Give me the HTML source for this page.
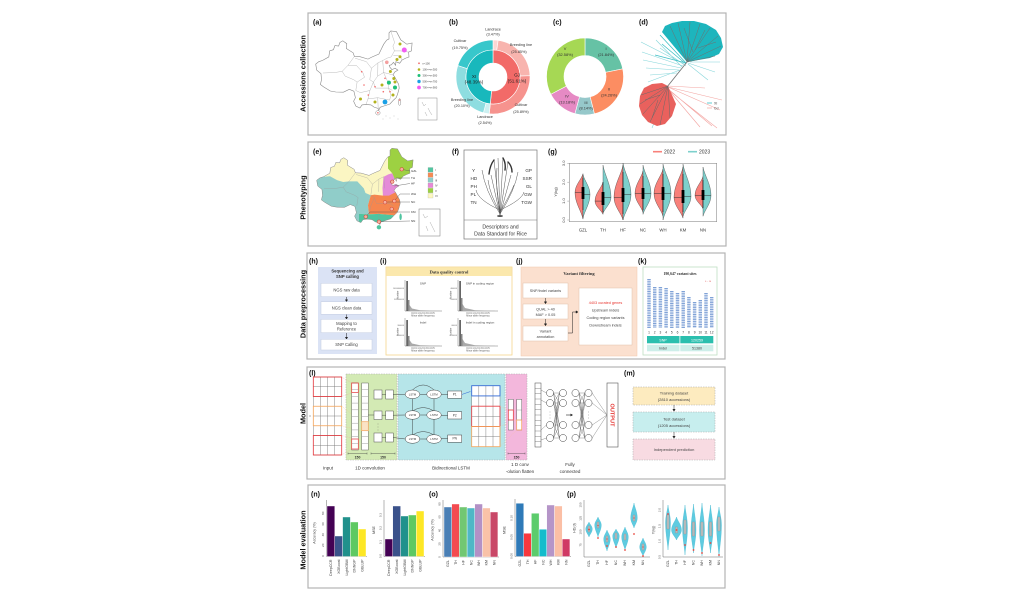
<!DOCTYPE html>
<html><head><meta charset="utf-8">
<style>
html,body{margin:0;padding:0;background:#fff;}
svg{display:block;}
text{font-family:"Liberation Sans",Arial,sans-serif;}
.sf{font-family:"Liberation Serif",serif;font-weight:bold;}
</style></head><body>
<svg width="1031" height="596" viewBox="0 0 1031 596" xmlns="http://www.w3.org/2000/svg">
<defs>
<clipPath id="cnclip"><path d="M315.7,64.1 L316.7,70.1 L321,73.7 L321.5,79.7 L320.4,84.5 L323.6,86.9 L330.3,91 L335.8,92 L343.4,92.2 L349.3,89.3 L353.9,91.2 L355.4,97.7 L353.6,101.3 L355.9,106.1 L359.9,108 L362,104.9 L366,104.4 L371,104.9 L374.1,107.1 L378.2,108.5 L378.8,110.2 L380.1,107.3 L385.1,105.6 L389.9,104 L393.5,100.1 L396.1,97.7 L397.6,94.1 L399.2,88.1 L398.7,84.5 L396.8,80.9 L394.5,76.6 L393,74.9 L394.8,72 L397.9,70.1 L395.1,68.2 L391.9,69.6 L389.9,67.2 L389.2,65.3 L391.3,64.8 L393.5,62.4 L395.6,65.3 L395.9,61.7 L399.7,63.2 L402.1,60 L405.8,58.1 L409,56.9 L408.6,52.1 L411.4,50.9 L412.1,43 L406.8,44.2 L400.8,39.9 L396.5,31.7 L390.8,31 L389,32.9 L389,38.9 L386.7,40.1 L383.7,44.2 L378.9,54 L371.2,57.4 L368,59.1 L360,56.7 L354.4,56.4 L353.1,52.8 L346.3,48.5 L346.8,43.7 L342.8,40.8 L339.9,42.5 L338.6,46.1 L334.9,45.6 L333.4,49.7 L329.7,50.9 L328.8,56.9 L322.4,60.5 L318.8,61.7 Z"/></clipPath>
</defs>

<!-- panel boxes -->
<g fill="none" stroke="#b3b3b3" stroke-width="1.2">
<rect x="308" y="13" width="418" height="122"/>
<rect x="308" y="142" width="418" height="104"/>
<rect x="307" y="253" width="418" height="106"/>
<rect x="307" y="367" width="418" height="112"/>
<rect x="308" y="485" width="417" height="103"/>
</g>

<!-- row labels -->
<g font-size="7.3" font-weight="bold" fill="#111" text-anchor="middle">
<text transform="translate(305.5,73.5) rotate(-90)">Accessions collection</text>
<text transform="translate(305.5,197.5) rotate(-90)">Phenotyping</text>
<text transform="translate(305.5,304) rotate(-90)">Data preprocessing</text>
<text transform="translate(305.5,413.5) rotate(-90)">Model</text>
<text transform="translate(305.5,540) rotate(-90)">Model evaluation</text>
</g>

<!-- panel letters -->
<g font-size="7" font-weight="bold" fill="#111">
<text x="313" y="24.5">(a)</text><text x="449" y="24.5">(b)</text><text x="553" y="24.5">(c)</text><text x="639" y="24.5">(d)</text>
<text x="313" y="154">(e)</text><text x="452" y="154">(f)</text><text x="548" y="154">(g)</text>
<text x="309" y="263.5">(h)</text><text x="380" y="263.5">(i)</text><text x="516" y="263.5">(j)</text><text x="638" y="263.5">(k)</text>
<text x="309" y="375.5">(l)</text><text x="624" y="375.5">(m)</text>
<text x="311" y="496.5">(n)</text><text x="429" y="496.5">(o)</text><text x="567" y="496.5">(p)</text>
</g>

<!-- ===== (a) map ===== -->
<path d="M315.7,64.1 L316.7,70.1 L321,73.7 L321.5,79.7 L320.4,84.5 L323.6,86.9 L330.3,91 L335.8,92 L343.4,92.2 L349.3,89.3 L353.9,91.2 L355.4,97.7 L353.6,101.3 L355.9,106.1 L359.9,108 L362,104.9 L366,104.4 L371,104.9 L374.1,107.1 L378.2,108.5 L378.8,110.2 L380.1,107.3 L385.1,105.6 L389.9,104 L393.5,100.1 L396.1,97.7 L397.6,94.1 L399.2,88.1 L398.7,84.5 L396.8,80.9 L394.5,76.6 L393,74.9 L394.8,72 L397.9,70.1 L395.1,68.2 L391.9,69.6 L389.9,67.2 L389.2,65.3 L391.3,64.8 L393.5,62.4 L395.6,65.3 L395.9,61.7 L399.7,63.2 L402.1,60 L405.8,58.1 L409,56.9 L408.6,52.1 L411.4,50.9 L412.1,43 L406.8,44.2 L400.8,39.9 L396.5,31.7 L390.8,31 L389,32.9 L389,38.9 L386.7,40.1 L383.7,44.2 L378.9,54 L371.2,57.4 L368,59.1 L360,56.7 L354.4,56.4 L353.1,52.8 L346.3,48.5 L346.8,43.7 L342.8,40.8 L339.9,42.5 L338.6,46.1 L334.9,45.6 L333.4,49.7 L329.7,50.9 L328.8,56.9 L322.4,60.5 L318.8,61.7 Z" fill="#fff" stroke="#8a8a8a" stroke-width="0.6"/>
<g fill="none" stroke="#aaa" stroke-width="0.4">
<path d="M322.9,73 L335.1,72.5 L342.2,71.3 L348,65.3 L354.4,56.4"/>
<path d="M342.2,71.3 L345.1,76.1 L353.7,79.7 L357.1,82.1 L355.8,90.5"/>
<path d="M348,65.3 L356.3,65.3 L362.8,72.5 L364.5,77.3 L357.1,82.1"/>
<path d="M355.1,58.2 L366.4,61.7 L371.4,68.2 L377.9,62.9 L382.7,60.5 L387.3,58.1 L391.2,56.9 L394.4,50.9 L392.9,46.1 L394.6,42.5 L390.8,31"/>
<path d="M394.4,50.9 L400.6,50.9 L408.6,52.1"/><path d="M393.4,55.7 L399.8,55.7 L402.1,60"/>
<path d="M371.4,68.2 L369.8,79.7 L373.4,82.1 L369.9,90.5 L368,98.9 L366,104.4"/>
<path d="M355.8,90.5 L360.4,92.6 L369.9,90.5"/>
<path d="M382.7,60.5 L383.6,72.5"/><path d="M377.9,62.9 L377.7,76.1"/>
<path d="M373.4,82.1 L377.7,76.1 L383.6,72.5 L393,74.9"/>
<path d="M373.4,82.1 L375.4,88.1 L388.5,88.1 L392.4,90.5"/>
<path d="M368,98.9 L377.7,97.7 L389.6,100.1"/><path d="M377.7,97.7 L378.2,108.5"/>
<path d="M388.5,88.1 L391,95.3 L389.6,100.1"/><path d="M383.6,72.5 L387.9,82.1 L388.5,88.1"/>
</g>
<ellipse cx="377.9" cy="112.8" rx="2.2" ry="2.2" fill="#fff" stroke="#8a8a8a" stroke-width="0.5"/>
<ellipse cx="399.6" cy="102" rx="1.2" ry="3.4" fill="#fff" stroke="#8a8a8a" stroke-width="0.5"/>
<g fill="#999"><circle cx="386" cy="116" r="0.4"/><circle cx="390" cy="118" r="0.4"/><circle cx="394" cy="116" r="0.4"/><circle cx="398" cy="119" r="0.4"/><circle cx="383" cy="119" r="0.4"/></g>
<g>
<circle cx="400" cy="44" r="1.5" fill="#b2b21c"/><circle cx="404.3" cy="50" r="2.5" fill="#f25cf2"/>
<circle cx="400" cy="56.7" r="1.5" fill="#b2b21c"/><circle cx="397" cy="59.5" r="1.5" fill="#b2b21c"/>
<circle cx="386.8" cy="62.3" r="1.8" fill="#f4a0a0"/><circle cx="390.4" cy="71.5" r="1.5" fill="#b2b21c"/>
<circle cx="393.8" cy="78.5" r="1.5" fill="#b2b21c"/><circle cx="388.9" cy="82.6" r="2" fill="#1fbf78"/>
<circle cx="395" cy="82" r="1.5" fill="#b2b21c"/><circle cx="395" cy="87.5" r="2" fill="#1fbf78"/>
<circle cx="382" cy="85" r="1.5" fill="#b2b21c"/><circle cx="393" cy="95" r="1.5" fill="#b2b21c"/>
<circle cx="385" cy="102" r="2.4" fill="#1aa0e6"/><circle cx="375" cy="102" r="1.5" fill="#b2b21c"/>
<circle cx="360.5" cy="99" r="1.5" fill="#b2b21c"/>
<g fill="#f26b6b"><circle cx="361.7" cy="71.7" r="0.8"/><circle cx="364" cy="85" r="0.8"/><circle cx="375" cy="86.7" r="0.8"/><circle cx="383.3" cy="91.7" r="0.8"/><circle cx="390" cy="91.7" r="0.8"/><circle cx="399.6" cy="100" r="0.8"/><circle cx="385" cy="78.3" r="0.8"/><circle cx="377.9" cy="112.8" r="0.8"/><circle cx="368.3" cy="95" r="0.8"/></g>
</g>
<g font-size="2.6" fill="#444">
<circle cx="419" cy="63.3" r="0.9" fill="#f26b6b"/><text x="422.5" y="64.3">n&lt;100</text>
<circle cx="419" cy="69.5" r="1.3" fill="#b2b21c"/><text x="422.5" y="70.5">100&lt;=n&lt;300</text>
<circle cx="419" cy="75.5" r="1.5" fill="#1fbf78"/><text x="422.5" y="76.5">300&lt;=n&lt;500</text>
<circle cx="419" cy="81.5" r="1.7" fill="#1aa0e6"/><text x="422.5" y="82.5">500&lt;=n&lt;700</text>
<circle cx="419" cy="87.5" r="1.9" fill="#f25cf2"/><text x="422.5" y="88.5">700&lt;=n&lt;900</text>
</g>
<rect x="418" y="98" width="19" height="22" fill="none" stroke="#888" stroke-width="0.5"/>
<path d="M422,102 L424,106 L426,104 M428,108 L430,112 L432,115 M425,112 L427,116" stroke="#999" stroke-width="0.4" fill="none"/>

<!-- ===== (b) donut ===== -->
<g stroke="#fff" stroke-width="0.6">
<path d="M493,40 A37,37 0 0 1 498.15,40.36 L496.76,50.26 A27,27 0 0 0 493,50 Z" fill="#fcd6d3"/>
<path d="M498.15,40.36 A37,37 0 0 1 529.98,75.71 L519.98,76.06 A27,27 0 0 0 496.76,50.26 Z" fill="#f8b4ae"/>
<path d="M529.98,75.71 A37,37 0 0 1 489.26,113.81 L490.27,103.86 A27,27 0 0 0 519.98,76.06 Z" fill="#f6938e"/>
<path d="M489.26,113.81 A37,37 0 0 1 483.42,112.74 L486.01,103.08 A27,27 0 0 0 490.27,103.86 Z" fill="#cdf0f1"/>
<path d="M483.42,112.74 A37,37 0 0 1 457.81,65.57 L467.32,68.66 A27,27 0 0 0 486.01,103.08 Z" fill="#8edde0"/>
<path d="M457.81,65.57 A37,37 0 0 1 493,40 L493,50 A27,27 0 0 0 467.32,68.66 Z" fill="#38c7cb"/>
<path d="M493,50 A27,27 0 1 1 490.27,103.86 L491.58,90.93 A14,14 0 1 0 493,63 Z" fill="#f26a68"/>
<path d="M490.27,103.86 A27,27 0 0 1 493,50 L493,63 A14,14 0 0 0 491.58,90.93 Z" fill="#18b8bc"/>
</g>
<g font-size="3.8" fill="#333" text-anchor="middle">
<text x="493" y="30.5">Landrace</text><text x="493" y="35.5">(3.47%)</text>
<text x="460" y="42">Cultivar</text><text x="460" y="49">(19.75%)</text>
<text x="521" y="46">Breeding line</text><text x="519" y="53">(25.85%)</text>
<text x="462" y="101">Breeding line</text><text x="462" y="107">(20.10%)</text>
<text x="485" y="118">Landrace</text><text x="485" y="124">(2.54%)</text>
<text x="521" y="106">Cultivar</text><text x="521" y="113">(25.89%)</text>
</g>
<g font-size="4.6" fill="#222" text-anchor="middle">
<text x="474" y="78">XI</text><text x="474" y="83.5">(48.39%)</text>
<text x="517" y="76.5">GJ</text><text x="517" y="82.5">(51.61%)</text>
</g>

<!-- ===== (c) donut ===== -->
<g stroke="#fff" stroke-width="0.6">
<path d="M585,38 A38.5,38.5 0 0 1 622.74,68.89 L605.59,72.35 A21,21 0 0 0 585,55.5 Z" fill="#66c2a5"/>
<path d="M622.74,68.89 A38.5,38.5 0 0 1 594.38,113.84 L590.12,96.87 A21,21 0 0 0 605.59,72.35 Z" fill="#fc8d62"/>
<path d="M594.38,113.84 A38.5,38.5 0 0 1 574.91,113.65 L579.49,96.77 A21,21 0 0 0 590.12,96.87 Z" fill="#96c8ca"/>
<path d="M574.91,113.65 A38.5,38.5 0 0 1 550.82,94.22 L566.36,86.16 A21,21 0 0 0 579.49,96.77 Z" fill="#e68ac4"/>
<path d="M550.82,94.22 A38.5,38.5 0 0 1 585,38 L585,55.5 A21,21 0 0 0 566.36,86.16 Z" fill="#a6d854"/>
</g>
<g font-size="3.9" fill="#333" text-anchor="middle">
<text x="606" y="50">I</text><text x="606" y="56">(21.84%)</text>
<text x="609" y="90.5">II</text><text x="609" y="96.5">(24.26%)</text>
<text x="586" y="104">III</text><text x="586" y="109.5">(8.14%)</text>
<text x="567" y="97.5">IV</text><text x="567" y="103.5">(13.18%)</text>
<text x="565" y="50">V</text><text x="565" y="56">(32.58%)</text>
</g>

<!-- ===== (d) tree ===== -->
<g fill="none" stroke-width="0.6">
<path d="M684,64 L641,42 M683,66 L642,52 M681,68 L643,60 M679,70 L646,68 M677,73 L650,75 M682,67 L656,40 M686,66 L660,48 M688,64 L708,80 M688,63 L715,72 M690,62 L720,62 M668,88 L652,128 M680,70 L648,82" stroke="#86d6da"/>
<path d="M686,63 L660,35 M686,63 L655,55 M686,64 L662,44" stroke="#3dbfc5" stroke-width="0.8"/>
</g>
<path d="M687,62 L662,32 L665,26 L672,23 L682,21 L694,21 L706,24 L716,30 L721,38 L723,47 L719,54 L710,58 Z" fill="#1db5bd"/>
<g stroke="#6f6f6f" stroke-width="0.5" fill="none">
<path d="M687,62 L670,26 M687,62 L678,23 M687,62 L690,22 M687,62 L700,24 M687,62 L710,28 M687,62 L718,36 M687,62 L721,46 M687,62 L715,56 M695,50 L705,30 M693,52 L684,28 M698,48 L716,42"/>
</g>
<path d="M687,62 L667,87" stroke="#777" stroke-width="0.9"/>
<g fill="none" stroke="#f3a5a2" stroke-width="0.6">
<path d="M666,88 L717,128 M667,88 L712,126 M668,87 L722,100 M668,87 L720,110 M667,88 L700,127 M668,86 L705,88"/>
</g>
<path d="M668,86 L662,83 L652,84 L644,88 L640,96 L639,106 L642,115 L648,122 L657,126 L665,124 L672,116 L676,104 Z" fill="#e9615d"/>
<g stroke="#6a6a6a" stroke-width="0.5" fill="none">
<path d="M668,86 L641,95 M668,86 L640,104 M668,86 L643,114 M668,86 L650,122 M668,86 L660,125 M668,86 L670,118 M660,95 L645,100 M658,100 L652,118"/>
</g>
<line x1="707" y1="103" x2="712" y2="103" stroke="#1db5bd" stroke-width="0.7"/>
<line x1="707" y1="108" x2="712" y2="108" stroke="#f3a5a2" stroke-width="0.7"/>
<g font-size="3.5" fill="#444"><text x="714" y="104.5">XI</text><text x="714" y="109.5">GJ</text></g>

<!-- ===== (e) colored map ===== -->
<g transform="matrix(1,0,0,0.966,1,118.3)">
<g clip-path="url(#cnclip)">
<rect x="300" y="20" width="130" height="100" fill="#fbf6c3"/>
<path d="M387,28 L415,28 L415,64 L399.7,63.2 L395.9,61.7 L393.5,62.4 L391.2,56.9 L387,52 Z" fill="#9dd142"/>
<path d="M382.7,60.5 L387.3,58.1 L391.2,56.9 L393.5,62.4 L398,70 L394.5,76.6 L388,82 L382,82 L381.5,72 Z" fill="#e58bd8"/>
<path d="M310,60 L322.4,60.5 L329,60 L336,64 L342.2,66 L348,65.3 L356.3,65.3 L362.8,72.5 L364.5,77.3 L369.8,79.7 L367,90 L368,99.5 L358,99 L358,116 L310,116 Z" fill="#90cdc9"/>
<path d="M369.8,79.7 L373.4,79 L382,80 L388,80 L394.5,76.6 L399.5,86 L398,95 L393,100.5 L389.6,100.1 L377.7,99 L368,99.5 L367,90 Z" fill="#f5864f"/>
<path d="M358,99 L368,99.5 L377.7,99 L389.6,100.1 L393,100.5 L402,99 L402,116 L358,116 Z" fill="#4fc4a0"/>
<g fill="none" stroke="#999" stroke-width="0.3">
<path d="M322.9,73 L335.1,72.5 L342.2,71.3 L348,65.3 L354.4,56.4"/>
<path d="M342.2,71.3 L345.1,76.1 L353.7,79.7 L357.1,82.1 L355.8,90.5"/>
<path d="M355.1,58.2 L366.4,61.7 L371.4,68.2 L377.9,62.9 L382.7,60.5"/>
<path d="M371.4,68.2 L369.8,79.7 L373.4,82.1 L369.9,90.5 L368,98.9"/>
<path d="M373.4,82.1 L375.4,88.1 L388.5,88.1 L392.4,90.5"/><path d="M377.7,97.7 L378.2,108.5"/><path d="M382.7,60.5 L383.6,72.5"/><path d="M377.9,62.9 L377.7,76.1"/>
</g>
</g>
<path d="M315.7,64.1 L316.7,70.1 L321,73.7 L321.5,79.7 L320.4,84.5 L323.6,86.9 L330.3,91 L335.8,92 L343.4,92.2 L349.3,89.3 L353.9,91.2 L355.4,97.7 L353.6,101.3 L355.9,106.1 L359.9,108 L362,104.9 L366,104.4 L371,104.9 L374.1,107.1 L378.2,108.5 L378.8,110.2 L380.1,107.3 L385.1,105.6 L389.9,104 L393.5,100.1 L396.1,97.7 L397.6,94.1 L399.2,88.1 L398.7,84.5 L396.8,80.9 L394.5,76.6 L393,74.9 L394.8,72 L397.9,70.1 L395.1,68.2 L391.9,69.6 L389.9,67.2 L389.2,65.3 L391.3,64.8 L393.5,62.4 L395.6,65.3 L395.9,61.7 L399.7,63.2 L402.1,60 L405.8,58.1 L409,56.9 L408.6,52.1 L411.4,50.9 L412.1,43 L406.8,44.2 L400.8,39.9 L396.5,31.7 L390.8,31 L389,32.9 L389,38.9 L386.7,40.1 L383.7,44.2 L378.9,54 L371.2,57.4 L368,59.1 L360,56.7 L354.4,56.4 L353.1,52.8 L346.3,48.5 L346.8,43.7 L342.8,40.8 L339.9,42.5 L338.6,46.1 L334.9,45.6 L333.4,49.7 L329.7,50.9 L328.8,56.9 L322.4,60.5 L318.8,61.7 Z" fill="none" stroke="#888" stroke-width="0.5"/>
<ellipse cx="377.9" cy="112.8" rx="2.2" ry="2.2" fill="#4fc4a0"/>
<ellipse cx="399.6" cy="102" rx="1.2" ry="3.4" fill="#4fc4a0"/>
</g>
<g stroke="#555" stroke-width="0.4" fill="none">
<path d="M401.7,169.3 L410,171 M392.3,181.7 L396,178 L410,178 M394.3,186 L410,183.5 M394.3,201 L400,194 L410,194 M385,202.3 L388,202 L410,202 M365.7,216.7 L370,212 L410,212 M379,221.7 L410,221"/>
</g>
<g fill="#f5b0a0" stroke="#d0392b" stroke-width="0.5">
<circle cx="401.7" cy="169.3" r="1.8"/><circle cx="392.3" cy="181.7" r="1.8"/><circle cx="385" cy="202.3" r="1.8"/><circle cx="394.3" cy="201" r="1.8"/><circle cx="391.7" cy="209" r="1.8"/><circle cx="365.7" cy="216.7" r="1.8"/><circle cx="379" cy="221.7" r="1.8"/>
</g>
<g font-size="3" fill="#333">
<text x="411" y="172">GZL</text><text x="411" y="179">TH</text><text x="411" y="184.5">HF</text><text x="411" y="195">WH</text><text x="411" y="203">NC</text><text x="411" y="213">KM</text><text x="411" y="222">NN</text>
</g>
<g stroke="#999" stroke-width="0.2">
<rect x="428" y="167.5" width="5" height="4.5" fill="#52c6a0"/><rect x="428" y="172.7" width="5" height="4.5" fill="#f58a53"/><rect x="428" y="177.9" width="5" height="4.5" fill="#8ecdc9"/><rect x="428" y="183.1" width="5" height="4.5" fill="#e887d6"/><rect x="428" y="188.3" width="5" height="4.5" fill="#9bd140"/><rect x="428" y="193.5" width="5" height="4.5" fill="#fdf8c0"/>
</g>
<g font-size="2.8" fill="#444"><text x="435" y="171">I</text><text x="435" y="176.2">II</text><text x="435" y="181.4">III</text><text x="435" y="186.6">IV</text><text x="435" y="191.8">V</text><text x="435" y="197">VI</text></g>
<rect x="419" y="209" width="21" height="27" fill="none" stroke="#777" stroke-width="0.5"/>
<path d="M423,214 L425,218 L428,216 M430,222 L433,228 L435,232 M426,226 L428,231" stroke="#999" stroke-width="0.4" fill="none"/>

<!-- ===== (f) ===== -->
<rect x="464" y="150" width="73" height="89" fill="none" stroke="#777" stroke-width="0.7"/>
<line x1="464" y1="220" x2="537" y2="220" stroke="#777" stroke-width="0.6"/>
<g font-size="4.6" fill="#333">
<text x="472" y="172">Y</text><text x="470.5" y="180">HD</text><text x="470.5" y="188">PH</text><text x="470.5" y="196">PL</text><text x="470.5" y="204">TN</text>
</g>
<g font-size="4.6" fill="#333" text-anchor="end">
<text x="532" y="172">GP</text><text x="532" y="180">SSR</text><text x="532" y="188">GL</text><text x="532" y="196">GW</text><text x="532" y="204">TGW</text>
</g>
<g fill="none" stroke="#555" stroke-width="0.5">
<path d="M500,215 L494,160 M500,215 L498,158 M500,215 L503,158 M500,215 L508,162 M500,215 L491,175 M500,215 L511,175"/>
<path d="M500,214 Q485,190 482,170 M500,214 Q515,190 518,172 M500,212 Q490,195 488,180 M500,212 Q510,195 514,185 M500,210 Q478,200 476,190 M500,210 Q522,200 524,192 M500,213 Q495,185 497,168"/>
</g>
<g fill="none" stroke="#333" stroke-width="1.4" stroke-linecap="round">
<path d="M494,160 Q490,165 489,174 M503,158 Q506,163 505,170 M508,162 Q512,166 512,172"/>
</g>
<ellipse cx="500" cy="216" rx="3" ry="1" fill="#555"/>
<g font-size="5.2" fill="#333" text-anchor="middle"><text x="500.5" y="228.5">Descriptors and</text><text x="500.5" y="235.5">Data Standard for Rice</text></g>

<!-- ===== (g) violins ===== -->
<line x1="653" y1="151.7" x2="662" y2="151.7" stroke="#f8807a" stroke-width="1.6"/>
<line x1="688" y1="151.7" x2="697" y2="151.7" stroke="#7dd0cc" stroke-width="1.6"/>
<g font-size="5" fill="#333"><text x="664" y="153.5">2022</text><text x="699" y="153.5">2023</text></g>
<rect x="569.3" y="163.3" width="147.4" height="58.4" fill="none" stroke="#777" stroke-width="0.5"/>
<g stroke="#777" stroke-width="0.4"><line x1="567.3" y1="220" x2="569.3" y2="220"/><line x1="567.3" y1="201.1" x2="569.3" y2="201.1"/><line x1="567.3" y1="182.2" x2="569.3" y2="182.2"/><line x1="567.3" y1="163.3" x2="569.3" y2="163.3"/></g>
<g font-size="4" fill="#444" text-anchor="middle">
<text transform="translate(565,220) rotate(-90)">0.0</text><text transform="translate(565,201.1) rotate(-90)">1.0</text><text transform="translate(565,182.2) rotate(-90)">2.0</text><text transform="translate(565,163.3) rotate(-90)">3.0</text>
<text transform="translate(557,192) rotate(-90)">Y(kg)</text>
</g>
<g stroke="#333" stroke-width="0.35">
<g fill="#f8807a">
<path d="M583,173.7 C581.4,179.4 575,185 575,192.6 C575,203.2 581.4,211.1 583,219.1 Z"/>
<path d="M603,182.2 C601.4,187.9 595,193.5 595,201.1 C595,206.4 601.4,210.3 603,214.3 Z"/>
<path d="M623,165.2 C621.2,174.8 614,184.5 614,197.3 C614,206.4 621.2,213.2 623,220 Z"/>
<path d="M643,170.9 C641.4,177.7 635,184.5 635,193.5 C635,201.1 641.4,206.7 643,212.4 Z"/>
<path d="M663,169 C661.2,176.4 654,183.7 654,193.5 C654,202.6 661.2,209.4 663,216.2 Z"/>
<path d="M683,167.1 C681.2,176.2 674,185.2 674,197.3 C674,205.6 681.2,211.9 683,218.1 Z"/>
<path d="M703,176.5 C701.4,182.2 695,187.8 695,195.4 C695,200.7 701.4,204.7 703,208.7 Z"/>
</g>
<g fill="#7dd0cc">
<path d="M583,174.6 C584.4,180.6 590,186.5 590,194.5 C590,204 584.4,211 583,218.1 Z"/>
<path d="M603,165.2 C604.6,174.8 611,184.5 611,197.3 C611,203.7 604.6,208.6 603,213.4 Z"/>
<path d="M623,163.3 C624.6,172.7 631,182 631,194.5 C631,204.7 624.6,212.4 623,220 Z"/>
<path d="M643,165.2 C644.6,173.7 651,182.2 651,193.5 C651,201.8 644.6,208.1 643,214.3 Z"/>
<path d="M663,164.2 C664.6,173 671,181.8 671,193.5 C671,204.1 664.6,212 663,220 Z"/>
<path d="M683,164.2 C684.6,173.9 691,183.5 691,196.4 C691,204.3 684.6,210.3 683,216.2 Z"/>
<path d="M703,167.1 C704.6,175.6 711,184.1 711,195.4 C711,203.7 704.6,210 703,216.2 Z"/>
</g>
</g>
<g stroke="#333" stroke-width="0.5">
<path d="M575,192.6 L583,192.6 M583,194.5 L590,194.5 M595,201.1 L603,201.1 M603,197.3 L611,197.3 M614,197.3 L623,197.3 M623,194.5 L631,194.5 M635,193.5 L651,193.5 M654,193.5 L671,193.5 M674,197.3 L683,197.3 M683,196.4 L691,196.4 M695,195.4 L711,195.4"/>
</g>
<g stroke="#000" stroke-width="0.5">
<path d="M583,178 L583,210 M603,182 L603,212 M623,172 L623,214 M643,176 L643,210 M663,174 L663,212 M683,174 L683,212 M703,180 L703,208"/>
</g>
<g fill="#000">
<rect x="581.6" y="187" width="2.8" height="12"/><rect x="601.6" y="192" width="2.8" height="13"/><rect x="621.6" y="188" width="2.8" height="14"/><rect x="641.6" y="188" width="2.8" height="11"/><rect x="661.6" y="187" width="2.8" height="13"/><rect x="681.6" y="190" width="2.8" height="13"/><rect x="701.6" y="190" width="2.8" height="10"/>
</g>
<g font-size="4.3" fill="#333" text-anchor="middle">
<text x="583" y="231.5">GZL</text><text x="603" y="231.5">TH</text><text x="623" y="231.5">HF</text><text x="643" y="231.5">NC</text><text x="663" y="231.5">WH</text><text x="683" y="231.5">KM</text><text x="703" y="231.5">NN</text>
</g>

<!-- ===== (h) ===== -->
<rect x="318" y="267" width="59" height="87" fill="#dbe3f5"/>
<g font-size="4.2" fill="#333" text-anchor="middle" class="sf"><text x="347.5" y="272.5">Sequencing and</text><text x="347.5" y="278">SNP calling</text></g>
<g fill="#fff" stroke="#c4cde0" stroke-width="0.5">
<rect x="321" y="283.3" width="51" height="13.4"/><rect x="321" y="301.7" width="51" height="12.6"/><rect x="321" y="319.3" width="51" height="13.4"/><rect x="321" y="339.3" width="51" height="10.7"/>
</g>
<g font-size="4.2" fill="#444" text-anchor="middle">
<text x="346.5" y="291.5">NGS raw data</text><text x="346.5" y="309.5">NGS clean data</text><text x="346.5" y="325">Mapping to</text><text x="346.5" y="330.5">Reference</text><text x="346.5" y="346">SNP Calling</text>
</g>
<g stroke="#222" stroke-width="0.5" fill="#222">
<line x1="346.5" y1="297" x2="346.5" y2="300"/><path d="M345.3,299.8 L347.7,299.8 L346.5,301.5 Z"/>
<line x1="346.5" y1="314.5" x2="346.5" y2="317.5"/><path d="M345.3,317.3 L347.7,317.3 L346.5,319 Z"/>
<line x1="346.5" y1="333" x2="346.5" y2="337.5"/><path d="M345.3,337.3 L347.7,337.3 L346.5,339 Z"/>
</g>

<!-- ===== (i) ===== -->
<rect x="386" y="267" width="126" height="88" fill="#fff" stroke="#f5d68c" stroke-width="0.8"/>
<rect x="386.4" y="267.4" width="125.2" height="8.6" fill="#fbe8ad"/>
<text x="449" y="273.5" font-size="4.5" fill="#333" text-anchor="middle" class="sf">Data quality control</text>
<g stroke="#555" stroke-width="0.4" fill="none">
<path d="M405,280 L405,311 L442,311"/><path d="M458,280 L458,311 L498,311"/>
<path d="M405,318 L405,346 L442,346"/><path d="M458,318 L458,346 L498,346"/>
</g>
<g fill="#555">
<rect x="406.3" y="281" width="1.6" height="30"/><rect x="408" y="300" width="1.5" height="11" fill="#888"/>
<path d="M409.5,311 L409.5,305 L412,308.5 L420,310.2 L440,310.7 L440,311 Z" fill="#aaa"/>
<rect x="459.3" y="281" width="1.6" height="30"/><rect x="461" y="298" width="1.5" height="13" fill="#888"/>
<path d="M462.5,311 L462.5,304 L465,308 L475,310.2 L495,310.7 L495,311 Z" fill="#aaa"/>
<rect x="406.3" y="320" width="1.6" height="26"/><rect x="408" y="336" width="1.5" height="10" fill="#888"/>
<path d="M409.5,346 L409.5,340 L412,343.5 L420,345.2 L440,345.7 L440,346 Z" fill="#aaa"/>
<rect x="459.3" y="320" width="1.6" height="26"/><rect x="461" y="334" width="1.5" height="12" fill="#888"/>
<path d="M462.5,346 L462.5,339 L465,343 L475,345.2 L495,345.7 L495,346 Z" fill="#aaa"/>
</g>
<g font-size="3" fill="#444" text-anchor="middle">
<text x="423" y="284.5">SNP</text><text x="480" y="284.5">SNP in coding region</text>
<text x="423" y="323.5">Indel</text><text x="480" y="323.5">Indel in coding region</text>
</g>
<g font-size="2.4" fill="#555" text-anchor="middle">
<text x="423" y="316.5">Minor allele frequency</text><text x="478" y="316.5">Minor allele frequency</text>
<text x="423" y="351.5">Minor allele frequency</text><text x="478" y="351.5">Minor allele frequency</text>
<text x="423" y="313.8">0.0  0.1  0.2  0.3  0.4  0.5</text><text x="478" y="313.8">0.0  0.1  0.2  0.3  0.4  0.5</text>
<text x="423" y="348.8">0.0  0.1  0.2  0.3  0.4  0.5</text><text x="478" y="348.8">0.0  0.1  0.2  0.3  0.4  0.5</text>
<text transform="translate(398.5,295) rotate(-90)">Number</text><text transform="translate(451.5,295) rotate(-90)">Number</text>
<text transform="translate(398.5,332) rotate(-90)">Number</text><text transform="translate(451.5,332) rotate(-90)">Number</text>
</g>
<g font-size="2" fill="#666" text-anchor="end">
<text x="404" y="289">1000000000</text><text x="404" y="300">500000000</text>
<text x="457" y="289">400000</text><text x="457" y="300">200000</text>
<text x="404" y="326">300000</text><text x="404" y="336">100000</text>
<text x="457" y="326">60000</text><text x="457" y="336">20000</text>
</g>

<!-- ===== (j) ===== -->
<rect x="521" y="267" width="116" height="89" fill="#fbe0cf" stroke="#f2c7ab" stroke-width="0.5"/>
<text x="579" y="275" font-size="4.5" fill="#333" text-anchor="middle" class="sf">Variant filtering</text>
<g fill="#fff" stroke="#e2c2aa" stroke-width="0.5">
<rect x="523" y="283" width="45" height="15"/><rect x="523" y="304" width="45" height="15"/><rect x="523" y="326" width="45" height="15"/><rect x="579" y="288" width="53" height="57"/>
</g>
<g font-size="3.8" fill="#444" text-anchor="middle">
<text x="545.5" y="292">SNP/Indel variants</text>
<text x="545.5" y="310.5">QUAL &gt; 40</text><text x="545.5" y="316">MAF  &gt;  0.05</text>
<text x="545.5" y="332.5">Variant</text><text x="545.5" y="338">annotation</text>
<text x="605.5" y="304" fill="#e8352f">4403 curated genes</text>
<text x="605.5" y="311.5">Upstream indels</text><text x="605.5" y="319">Coding region variants</text><text x="605.5" y="326.5">Downstream indels</text>
</g>
<g stroke="#222" stroke-width="0.5" fill="#222">
<line x1="545.5" y1="298" x2="545.5" y2="302"/><path d="M544.3,301.8 L546.7,301.8 L545.5,303.7 Z"/>
<line x1="545.5" y1="319" x2="545.5" y2="324"/><path d="M544.3,323.8 L546.7,323.8 L545.5,325.7 Z"/>
<path d="M568,333 L572.5,333 L572.5,312 L576,312" fill="none"/><path d="M576,310.8 L576,313.2 L578,312 Z"/>
</g>

<!-- ===== (k) ===== -->
<rect x="643" y="267" width="74" height="88" fill="#fff" stroke="#bfe0c3" stroke-width="0.8"/>
<text x="680" y="275" font-size="3.8" fill="#333" text-anchor="middle" class="sf">190,647 variant sites</text>
<text x="705" y="282" font-size="2.2" fill="#d55">0 ~ 10</text>
<g fill="#d3dff2">
<rect x="647.3" y="279" width="3.4" height="49"/><rect x="653" y="287" width="3.4" height="41"/><rect x="658.7" y="287" width="3.4" height="41"/><rect x="664.4" y="288" width="3.4" height="40"/><rect x="670.1" y="291" width="3.4" height="37"/><rect x="675.8" y="293" width="3.4" height="35"/><rect x="681.5" y="291" width="3.4" height="37"/><rect x="687.2" y="297" width="3.4" height="31"/><rect x="692.9" y="302" width="3.4" height="26"/><rect x="698.6" y="300" width="3.4" height="28"/><rect x="704.3" y="293" width="3.4" height="35"/><rect x="710" y="297" width="3.4" height="31"/>
</g>
<g stroke="#7499d2" stroke-width="3.4" stroke-dasharray="0.9 1.5">
<line x1="649" y1="279" x2="649" y2="328"/><line x1="654.7" y1="287" x2="654.7" y2="328"/><line x1="660.4" y1="287" x2="660.4" y2="328"/><line x1="666.1" y1="288" x2="666.1" y2="328"/><line x1="671.8" y1="291" x2="671.8" y2="328"/><line x1="677.5" y1="293" x2="677.5" y2="328"/><line x1="683.2" y1="291" x2="683.2" y2="328"/><line x1="688.9" y1="297" x2="688.9" y2="328"/><line x1="694.6" y1="302" x2="694.6" y2="328"/><line x1="700.3" y1="300" x2="700.3" y2="328"/><line x1="706" y1="293" x2="706" y2="328"/><line x1="711.7" y1="297" x2="711.7" y2="328"/>
</g>
<g font-size="3.2" fill="#333" text-anchor="middle">
<text x="649" y="333.5">1</text><text x="654.7" y="333.5">2</text><text x="660.4" y="333.5">3</text><text x="666.1" y="333.5">4</text><text x="671.8" y="333.5">5</text><text x="677.5" y="333.5">6</text><text x="683.2" y="333.5">7</text><text x="688.9" y="333.5">8</text><text x="694.6" y="333.5">9</text><text x="700.3" y="333.5">10</text><text x="706" y="333.5">11</text><text x="711.7" y="333.5">12</text>
</g>
<rect x="647" y="336" width="32.5" height="7.3" fill="#2bbfae"/><rect x="680.3" y="336" width="33" height="7.3" fill="#2bbfae"/>
<rect x="647" y="344.8" width="32.5" height="6.5" fill="#cdeee9"/><rect x="680.3" y="344.8" width="33" height="6.5" fill="#cdeee9"/>
<g font-size="3.6" text-anchor="middle">
<text x="663" y="341.3" fill="#fff">SNP</text><text x="697" y="341.3" fill="#fff">120259</text>
<text x="663" y="349.6" fill="#444">Indel</text><text x="697" y="349.6" fill="#444">51380</text>
</g>

<!-- ===== (l) model ===== -->
<g stroke="#aaa" stroke-width="0.5" stroke-dasharray="1.5 1">
<rect x="346" y="374" width="51" height="86" fill="#d3eab4"/>
<rect x="398" y="374" width="107" height="86" fill="#b6e5e9"/>
<rect x="506" y="374" width="21" height="86" fill="#f3b7dc"/>
</g>
<g stroke="#777" stroke-width="0.45" fill="none">
<rect x="313.3" y="377" width="28.4" height="78" fill="#fff"/>
<path d="M320.4,377 V455 M327.5,377 V455 M334.6,377 V455 M313.3,386.75 H341.7 M313.3,396.5 H341.7 M313.3,406.25 H341.7 M313.3,416 H341.7 M313.3,425.75 H341.7 M313.3,435.5 H341.7 M313.3,445.25 H341.7"/>
</g>
<rect x="313.3" y="377" width="28.4" height="19.5" fill="none" stroke="#e6363b" stroke-width="0.8"/>
<rect x="313.3" y="406.25" width="28.4" height="19.5" fill="none" stroke="#f5a55a" stroke-width="0.8"/>
<rect x="313.3" y="435.5" width="28.4" height="19.5" fill="none" stroke="#e6363b" stroke-width="0.8"/>
<circle cx="310" cy="416" r="0.5" fill="#333"/>
<g stroke-width="0.4" stroke-dasharray="1 0.8" fill="none">
<path d="M341.7,377 L351.7,383 M341.7,396.5 L351.7,393 M341.7,435.5 L351.7,438 M341.7,455 L351.7,449" stroke="#f2a3a3"/>
<path d="M341.7,406.25 L361.7,421.7 M341.7,425.75 L361.7,430.7" stroke="#f7c48f"/>
</g>
<g stroke="#555" stroke-width="0.45" fill="#fff">
<rect x="351.7" y="383" width="6.6" height="67"/><rect x="361.7" y="383" width="6.6" height="67"/>
</g>
<path d="M351.7,389.7 H358.3 M351.7,396.4 H358.3 M351.7,403.1 H358.3 M351.7,409.8 H358.3 M351.7,416.5 H358.3 M351.7,423.2 H358.3 M351.7,429.9 H358.3 M351.7,436.6 H358.3 M351.7,443.3 H358.3 M361.7,389.7 H368.3 M361.7,396.4 H368.3 M361.7,403.1 H368.3 M361.7,409.8 H368.3 M361.7,416.5 H368.3 M361.7,423.2 H368.3 M361.7,429.9 H368.3 M361.7,436.6 H368.3 M361.7,443.3 H368.3" stroke="#777" stroke-width="0.35"/>
<rect x="351.7" y="383" width="6.6" height="9.5" fill="none" stroke="#e6363b" stroke-width="0.7"/>
<rect x="351.7" y="439" width="6.6" height="10" fill="none" stroke="#e6363b" stroke-width="0.7"/>
<rect x="361.7" y="421.7" width="6.6" height="9" fill="#fbe3c5" stroke="#f5a55a" stroke-width="0.7"/>
<g fill="#fff" stroke="#555" stroke-width="0.5">
<rect x="374" y="390" width="8" height="9"/><rect x="385.7" y="390" width="7.6" height="9"/>
<rect x="374" y="411" width="8" height="8.5"/><rect x="385.7" y="411" width="7.6" height="8.5"/>
<rect x="374" y="433" width="8" height="9"/><rect x="385.7" y="433" width="7.6" height="9"/>
</g>
<g stroke="#333" stroke-width="0.4"><path d="M382,394.5 H385.7 M382,415.2 H385.7 M382,437.5 H385.7 M368.3,415 H374"/></g>
<g fill="#555"><circle cx="378" cy="424" r="0.35"/><circle cx="378" cy="427" r="0.35"/><circle cx="378" cy="430" r="0.35"/></g>
<g stroke="#444" stroke-width="0.4"><path d="M348,453.5 H367 M371,453.5 H395 M348,452.5 V454.5 M367,452.5 V454.5 M371,452.5 V454.5 M395,452.5 V454.5 M508,453.5 H525 M508,452.5 V454.5 M525,452.5 V454.5"/></g>
<g font-size="3.5" font-weight="bold" fill="#333" text-anchor="middle"><text x="357.5" y="458.5">150</text><text x="383" y="458.5">150</text><text x="516.5" y="458.5">150</text></g>
<g stroke="#333" stroke-width="0.45" fill="none">
<path d="M393.3,394.5 L405.2,394.3 M393.3,415.2 L405.2,415 M393.3,437.5 L405.2,439"/>
<path d="M419.8,394.3 H426.7 M419.8,415 H426.7 M419.8,439 H426.7 M441.3,394.5 H447.7 M441.3,415.3 H447.7 M441.3,438.6 H447.7"/>
<path d="M412.5,398.6 V410.7 M434,410.7 V398.6 M412.5,419.3 V434.7 M434,434.7 V419.3"/>
<path d="M412.5,390 Q423,380 434,390 M412.5,411 Q423,404 434,411 M412.5,435 Q423,428 434,435"/>
</g>
<g fill="#fff" stroke="#444" stroke-width="0.5">
<ellipse cx="412.5" cy="394.3" rx="7.3" ry="4.3"/><ellipse cx="434" cy="394.3" rx="7.3" ry="4.3"/>
<ellipse cx="412.5" cy="415" rx="7.3" ry="4.3"/><ellipse cx="434" cy="415" rx="7.3" ry="4.3"/>
<ellipse cx="412.5" cy="439" rx="7.3" ry="4.3"/><ellipse cx="434" cy="439" rx="7.3" ry="4.3"/>
<rect x="447.7" y="391" width="14" height="7.3"/><rect x="447.7" y="411.7" width="14" height="7.3"/><rect x="447.7" y="435" width="14" height="7.3"/>
</g>
<g font-size="2.8" fill="#333" text-anchor="middle">
<text x="412.5" y="395.3">LSTM</text><text x="434" y="395.3">LSTM</text><text x="412.5" y="416">LSTM</text><text x="434" y="416">LSTM</text><text x="412.5" y="440">LSTM</text><text x="434" y="440">LSTM</text>
<text x="454.7" y="395.7" font-size="3.2">P1</text><text x="454.7" y="416.4" font-size="3.2">P2</text><text x="454.7" y="439.7" font-size="3.2">PN</text>
</g>
<path d="M461.7,394.5 L470.5,391.5" stroke="#3a6fd8" stroke-width="0.6"/>
<g stroke="#777" stroke-width="0.45" fill="none">
<rect x="471.7" y="385.7" width="28.3" height="61" fill="#fff"/>
<path d="M478.8,385.7 V446.7 M485.9,385.7 V446.7 M493,385.7 V446.7 M471.7,395.9 H500 M471.7,406.2 H500 M471.7,416.4 H500 M471.7,426.5 H500 M471.7,436.6 H500"/>
</g>
<rect x="471.7" y="385.7" width="28.3" height="10.2" fill="none" stroke="#3a6fd8" stroke-width="0.9"/>
<rect x="471.7" y="406.2" width="28.3" height="20.3" fill="none" stroke="#e6363b" stroke-width="0.8"/>
<rect x="471.7" y="426.5" width="28.3" height="20.2" fill="none" stroke="#f5a55a" stroke-width="0.8"/>
<g stroke="#f7c48f" stroke-width="0.35" stroke-dasharray="1 0.8"><path d="M500,426.5 L516.7,420 M500,446.7 L516.7,430 M500,406.2 L508.3,410"/></g>
<g fill="#fff" stroke="#555" stroke-width="0.45">
<rect x="508.3" y="399.3" width="5" height="30.7"/><rect x="516.7" y="399.3" width="5" height="30.7"/>
</g>
<path d="M508.3,410 H513.3 M508.3,420 H513.3 M516.7,410 H521.7 M516.7,420 H521.7" stroke="#777" stroke-width="0.35"/>
<rect x="508.3" y="410" width="5" height="10" fill="none" stroke="#e6363b" stroke-width="0.7"/>
<rect x="516.7" y="420" width="5" height="10" fill="none" stroke="#f5a55a" stroke-width="0.7"/>
<rect x="535" y="383" width="6" height="64" fill="#fff" stroke="#444" stroke-width="0.5"/>
<path d="M535,388.3 H541 M535,393.7 H541 M535,399 H541 M535,404.3 H541 M535,409.7 H541 M535,415 H541 M535,420.3 H541 M535,425.7 H541 M535,431 H541 M535,436.3 H541 M535,441.7 H541" stroke="#555" stroke-width="0.35"/>
<g stroke="#444" stroke-width="0.3">
<path d="M541,390 L546.4,393 M541,400 L546.4,403 M541,430 L546.4,425 M541,440 L546.4,438"/>
<path d="M553.6,393 L559.4,393 M553.6,393 L559.4,403 M553.6,393 L559.4,425 M553.6,393 L559.4,438 M553.6,403 L559.4,393 M553.6,403 L559.4,403 M553.6,403 L559.4,425 M553.6,403 L559.4,438 M553.6,425 L559.4,393 M553.6,425 L559.4,403 M553.6,425 L559.4,425 M553.6,425 L559.4,438 M553.6,438 L559.4,393 M553.6,438 L559.4,403 M553.6,438 L559.4,425 M553.6,438 L559.4,438"/>
<path d="M579.1,393 L584.9,393 M579.1,393 L584.9,403 M579.1,393 L584.9,425 M579.1,393 L584.9,438 M579.1,403 L584.9,393 M579.1,403 L584.9,403 M579.1,403 L584.9,425 M579.1,403 L584.9,438 M579.1,425 L584.9,393 M579.1,425 L584.9,403 M579.1,425 L584.9,425 M579.1,425 L584.9,438 M579.1,438 L584.9,393 M579.1,438 L584.9,403 M579.1,438 L584.9,425 M579.1,438 L584.9,438"/>
<path d="M592.1,393 L607,415 M592.1,403 L607,415 M592.1,425 L607,415 M592.1,438 L607,415"/>
</g>
<g fill="#fff" stroke="#444" stroke-width="0.5">
<circle cx="550" cy="393" r="3.6"/><circle cx="550" cy="403" r="3.6"/><circle cx="550" cy="425" r="3.6"/><circle cx="550" cy="438" r="3.6"/>
<circle cx="563" cy="393" r="3.6"/><circle cx="563" cy="403" r="3.6"/><circle cx="563" cy="425" r="3.6"/><circle cx="563" cy="438" r="3.6"/>
<circle cx="575.5" cy="393" r="3.6"/><circle cx="575.5" cy="403" r="3.6"/><circle cx="575.5" cy="425" r="3.6"/><circle cx="575.5" cy="438" r="3.6"/>
<circle cx="588.5" cy="393" r="3.6"/><circle cx="588.5" cy="403" r="3.6"/><circle cx="588.5" cy="425" r="3.6"/><circle cx="588.5" cy="438" r="3.6"/>
</g>
<g fill="#555"><circle cx="550" cy="412" r="0.35"/><circle cx="550" cy="415" r="0.35"/><circle cx="550" cy="418" r="0.35"/><circle cx="588.5" cy="412" r="0.35"/><circle cx="588.5" cy="415" r="0.35"/><circle cx="588.5" cy="418" r="0.35"/></g>
<path d="M566,415 L571,415" stroke="#222" stroke-width="0.6"/><path d="M570.5,413.6 L573,415 L570.5,416.4 Z" fill="#222"/>
<rect x="607" y="383" width="11" height="64" fill="#fff" stroke="#555" stroke-width="0.6"/>
<text transform="translate(610.6,415) rotate(90)" font-size="5.6" font-weight="bold" fill="#e53935" text-anchor="middle">OUTPUT</text>
<g font-size="4.5" fill="#333" text-anchor="middle">
<text x="328" y="469.5">Input</text><text x="370" y="469.5">1D convolution</text><text x="451" y="469.5">Bidirectional LSTM</text>
<text x="520" y="466">1 D conv</text><text x="520" y="473">-olution flatten</text>
<text x="570" y="466">Fully</text><text x="570" y="473">connected</text>
</g>

<!-- ===== (m) ===== -->
<g stroke="#aaa" stroke-width="0.5" stroke-dasharray="1.5 1">
<rect x="633" y="387" width="82" height="18" fill="#fdebbf"/>
<rect x="633" y="412" width="82" height="20" fill="#c7eeee"/>
<rect x="633" y="439" width="82" height="21" fill="#f8dbe2"/>
</g>
<g font-size="4" fill="#444" text-anchor="middle">
<text x="674" y="394.5">Training dataset</text><text x="674" y="401">(2810 accessions)</text>
<text x="674" y="420.5">Test dataset</text><text x="674" y="427">(1205 accessions)</text>
<text x="674" y="451">Independent prediction</text>
</g>
<g stroke="#222" stroke-width="0.5" fill="#222">
<line x1="674" y1="405" x2="674" y2="409.5"/><path d="M672.8,409.3 L675.2,409.3 L674,411.2 Z"/>
<line x1="674" y1="432" x2="674" y2="436.5"/><path d="M672.8,436.3 L675.2,436.3 L674,438.2 Z"/>
</g>

<!-- ===== (n)(o) bars ===== -->
<g stroke="#444" stroke-width="0.4" fill="none">
<path d="M326.5,500 V556.5 H367"/><path d="M384,500 V556.5 H425"/>
<path d="M443,500 V557 H499"/><path d="M515,499 V556.5 H571"/>
<path d="M584,500 V557 H650"/><path d="M663,500 V557 H723"/>
</g>
<g stroke="#fff" stroke-width="0.4">
<rect x="327" y="506" width="7.8" height="50.5" fill="#440154"/><rect x="334.8" y="536" width="7.8" height="20.5" fill="#3b528b"/><rect x="342.6" y="517" width="7.8" height="39.5" fill="#21918c"/><rect x="350.4" y="522" width="7.8" height="34.5" fill="#5ec962"/><rect x="358.2" y="529" width="7.8" height="27.5" fill="#fde725"/>
<rect x="385" y="539" width="7.8" height="17.5" fill="#440154"/><rect x="392.8" y="506" width="7.8" height="50.5" fill="#3b528b"/><rect x="400.6" y="516" width="7.8" height="40.5" fill="#21918c"/><rect x="408.4" y="515" width="7.8" height="41.5" fill="#5ec962"/><rect x="416.2" y="511" width="7.8" height="45.5" fill="#fde725"/>
<rect x="444" y="507" width="7.7" height="50" fill="#4a7fb5"/><rect x="451.7" y="504" width="7.7" height="53" fill="#f34b50"/><rect x="459.4" y="507" width="7.7" height="50" fill="#72c772"/><rect x="467.1" y="508" width="7.7" height="49" fill="#4fb8c6"/><rect x="474.8" y="504" width="7.7" height="53" fill="#b391c6"/><rect x="482.5" y="508" width="7.7" height="49" fill="#f9c2a8"/><rect x="490.2" y="512" width="7.7" height="45" fill="#c94868"/>
<rect x="516" y="503.3" width="7.7" height="53.2" fill="#2f7ab8"/><rect x="523.7" y="533.3" width="7.7" height="23.2" fill="#f8383f"/><rect x="531.4" y="513.3" width="7.7" height="43.2" fill="#5ccc6c"/><rect x="539.1" y="529.3" width="7.7" height="27.2" fill="#14bccc"/><rect x="546.8" y="505" width="7.7" height="51.5" fill="#b595c8"/><rect x="554.5" y="506" width="7.7" height="50.5" fill="#fbbfa5"/><rect x="562.2" y="539" width="7.7" height="17.5" fill="#d03a64"/>
</g>
<g font-size="3" fill="#555" text-anchor="middle">
<text transform="translate(324,556) rotate(-90)">0</text><text transform="translate(324,545.3) rotate(-90)">20</text><text transform="translate(324,534.7) rotate(-90)">40</text><text transform="translate(324,524) rotate(-90)">60</text><text transform="translate(324,513.3) rotate(-90)">80</text>
<text transform="translate(381.5,556) rotate(-90)">0.0</text><text transform="translate(381.5,542) rotate(-90)">0.1</text><text transform="translate(381.5,528) rotate(-90)">0.2</text><text transform="translate(381.5,515) rotate(-90)">0.3</text>
<text transform="translate(440.5,557) rotate(-90)">0</text><text transform="translate(440.5,544) rotate(-90)">20</text><text transform="translate(440.5,530.5) rotate(-90)">40</text><text transform="translate(440.5,517) rotate(-90)">60</text><text transform="translate(440.5,504) rotate(-90)">80</text>
<text transform="translate(512.5,556) rotate(-90)">0.00</text><text transform="translate(512.5,537) rotate(-90)">0.05</text><text transform="translate(512.5,518) rotate(-90)">0.10</text>
<text transform="translate(581.5,545) rotate(-90)">75</text><text transform="translate(581.5,532) rotate(-90)">100</text><text transform="translate(581.5,518.3) rotate(-90)">125</text><text transform="translate(581.5,505) rotate(-90)">150</text>
<text transform="translate(660.5,557) rotate(-90)">0.5</text><text transform="translate(660.5,541) rotate(-90)">1.0</text><text transform="translate(660.5,526) rotate(-90)">1.5</text><text transform="translate(660.5,510) rotate(-90)">2.0</text>
</g>
<g font-size="3.6" fill="#444" text-anchor="middle">
<text transform="translate(315.5,533) rotate(-90)">Accuracy (%)</text>
<text transform="translate(375,530) rotate(-90)">MSE</text>
<text transform="translate(433.5,530) rotate(-90)">Accuracy (%)</text>
<text transform="translate(505.5,530) rotate(-90)">MSE</text>
<text transform="translate(575.5,528) rotate(-90)">HD(d)</text>
<text transform="translate(654.5,530) rotate(-90)">Y(kg)</text>
</g>
<g font-size="3.6" fill="#444" text-anchor="end">
<text transform="translate(332.2,559.5) rotate(-90)">DeepCCR</text><text transform="translate(340,559.5) rotate(-90)">XGBoost</text><text transform="translate(347.8,559.5) rotate(-90)">LightGBM</text><text transform="translate(355.6,559.5) rotate(-90)">DNNGP</text><text transform="translate(363.4,559.5) rotate(-90)">GBLUP</text>
<text transform="translate(390.2,559.5) rotate(-90)">DeepCCR</text><text transform="translate(398,559.5) rotate(-90)">XGBoost</text><text transform="translate(405.8,559.5) rotate(-90)">LightGBM</text><text transform="translate(413.6,559.5) rotate(-90)">DNNGP</text><text transform="translate(421.4,559.5) rotate(-90)">GBLUP</text>
<text transform="translate(449.2,560) rotate(-90)">GZL</text><text transform="translate(456.9,560) rotate(-90)">TH</text><text transform="translate(464.6,560) rotate(-90)">HF</text><text transform="translate(472.3,560) rotate(-90)">NC</text><text transform="translate(480,560) rotate(-90)">WH</text><text transform="translate(487.7,560) rotate(-90)">KM</text><text transform="translate(495.4,560) rotate(-90)">NN</text>
<text transform="translate(521.2,559.5) rotate(-90)">GZL</text><text transform="translate(528.9,559.5) rotate(-90)">TH</text><text transform="translate(536.6,559.5) rotate(-90)">HF</text><text transform="translate(544.3,559.5) rotate(-90)">NC</text><text transform="translate(552,559.5) rotate(-90)">WH</text><text transform="translate(559.7,559.5) rotate(-90)">KM</text><text transform="translate(567.4,559.5) rotate(-90)">NN</text>
<text transform="translate(590.2,560) rotate(-90)">GZL</text><text transform="translate(599.2,560) rotate(-90)">TH</text><text transform="translate(608.2,560) rotate(-90)">HF</text><text transform="translate(617.2,560) rotate(-90)">NC</text><text transform="translate(626.2,560) rotate(-90)">WH</text><text transform="translate(635.2,560) rotate(-90)">KM</text><text transform="translate(644.2,560) rotate(-90)">NN</text>
<text transform="translate(669.2,560) rotate(-90)">GZL</text><text transform="translate(677.7,560) rotate(-90)">TH</text><text transform="translate(686.2,560) rotate(-90)">HF</text><text transform="translate(694.7,560) rotate(-90)">NC</text><text transform="translate(703.2,560) rotate(-90)">WH</text><text transform="translate(711.7,560) rotate(-90)">KM</text><text transform="translate(720.2,560) rotate(-90)">NN</text>
</g>

<!-- ===== (p) violins ===== -->
<g fill="#5fcbe0" stroke="#37b3cc" stroke-width="0.3">
<path d="M589,522 C589.7,524.1 592.3,526.2 592.3,529 C592.3,532.2 589.7,534.6 589,537 C588.3,534.6 585.7,532.2 585.7,529 C585.7,526.2 588.3,524.1 589,522 Z"/>
<path d="M598,517 C598.7,519.4 601.3,521.8 601.3,525 C601.3,529.8 598.7,533.4 598,537 C597.3,533.4 594.7,529.8 594.7,525 C594.7,521.8 597.3,519.4 598,517 Z"/>
<path d="M607,530 C607.7,532.7 610.3,535.4 610.3,539 C610.3,543.8 607.7,547.4 607,551 C606.3,547.4 603.7,543.8 603.7,539 C603.7,535.4 606.3,532.7 607,530 Z"/>
<path d="M616,529 C616.7,531.1 619.3,533.2 619.3,536 C619.3,540.8 616.7,544.4 616,548 C615.3,544.4 612.7,540.8 612.7,536 C612.7,533.2 615.3,531.1 616,529 Z"/>
<path d="M625,527 C625.7,530 628.3,533 628.3,537 C628.3,542.2 625.7,546.1 625,550 C624.3,546.1 621.7,542.2 621.7,537 C621.7,533 624.3,530 625,527 Z"/>
<path d="M634,503 C634.7,507.5 637.3,512 637.3,518 C637.3,522 634.7,525 634,528 C633.3,525 630.7,522 630.7,518 C630.7,512 633.3,507.5 634,503 Z"/>
<path d="M643,538 C643.7,540.7 646.3,543.4 646.3,547 C646.3,550.6 643.7,553.3 643,556 C642.3,553.3 639.7,550.6 639.7,547 C639.7,543.4 642.3,540.7 643,538 Z"/>
<path d="M668,505 C668.5,510.4 670.5,515.8 670.5,523 C670.5,533.8 668.5,541.9 668,550 C667.5,541.9 665.5,533.8 665.5,523 C665.5,515.8 667.5,510.4 668,505 Z"/>
<path d="M676.5,517 C677.5,520.9 681.5,524.8 681.5,530 C681.5,534 677.5,537 676.5,540 C675.5,537 671.5,534 671.5,530 C671.5,524.8 675.5,520.9 676.5,517 Z"/>
<path d="M685,505 C685.5,511.9 687.5,518.8 687.5,528 C687.5,538.8 685.5,546.9 685,555 C684.5,546.9 682.5,538.8 682.5,528 C682.5,518.8 684.5,511.9 685,505 Z"/>
<path d="M693.5,504 C694,511.8 696,519.6 696,530 C696,539.2 694,546.1 693.5,553 C693,546.1 691,539.2 691,530 C691,519.6 693,511.8 693.5,504 Z"/>
<path d="M702,503 C702.5,511.1 704.5,519.2 704.5,530 C704.5,540.4 702.5,548.2 702,556 C701.5,548.2 699.5,540.4 699.5,530 C699.5,519.2 701.5,511.1 702,503 Z"/>
<path d="M710.5,505 C711,512.5 713,520 713,530 C713,539.2 711,546.1 710.5,553 C710,546.1 708,539.2 708,530 C708,520 710,512.5 710.5,505 Z"/>
<path d="M719,507 C719.5,512.4 721.5,517.8 721.5,525 C721.5,537.8 719.5,547.4 719,557 C718.5,547.4 716.5,537.8 716.5,525 C716.5,517.8 718.5,512.4 719,507 Z"/>
</g>
<g fill="#b8b8b8" stroke="#888" stroke-width="0.25">
<rect x="588" y="526" width="2" height="6"/><rect x="597" y="522" width="2" height="6"/><rect x="606" y="536" width="2" height="6"/><rect x="615" y="533" width="2" height="6"/><rect x="624" y="534" width="2" height="6"/><rect x="633" y="515" width="2" height="6"/><rect x="642" y="544" width="2" height="6"/>
<rect x="666.8" y="515" width="2.4" height="14"/><rect x="675.3" y="527" width="2.4" height="6"/><rect x="683.8" y="520" width="2.4" height="14"/><rect x="692.3" y="522" width="2.4" height="14"/><rect x="700.8" y="522" width="2.4" height="14"/><rect x="709.3" y="522" width="2.4" height="14"/><rect x="717.8" y="517" width="2.4" height="14"/>
</g>
<g fill="#e8453c">
<circle cx="589" cy="529.5" r="0.9"/><circle cx="598" cy="538" r="0.9"/><circle cx="607" cy="546" r="0.9"/><circle cx="616" cy="547" r="0.9"/><circle cx="625" cy="550" r="0.9"/><circle cx="634" cy="534" r="0.9"/><circle cx="643" cy="556" r="0.9"/>
<circle cx="598" cy="525.5" r="0.6"/><circle cx="607" cy="539" r="0.6"/><circle cx="634" cy="518" r="0.6"/><circle cx="643" cy="547" r="0.6"/>
<circle cx="668" cy="514" r="0.9"/><circle cx="676.5" cy="530" r="0.9"/><circle cx="685" cy="545" r="0.9"/><circle cx="693.5" cy="550" r="0.9"/><circle cx="702" cy="553" r="0.9"/><circle cx="710.5" cy="543" r="0.9"/><circle cx="719" cy="555" r="0.9"/>
</g>
</svg>
</body></html>
